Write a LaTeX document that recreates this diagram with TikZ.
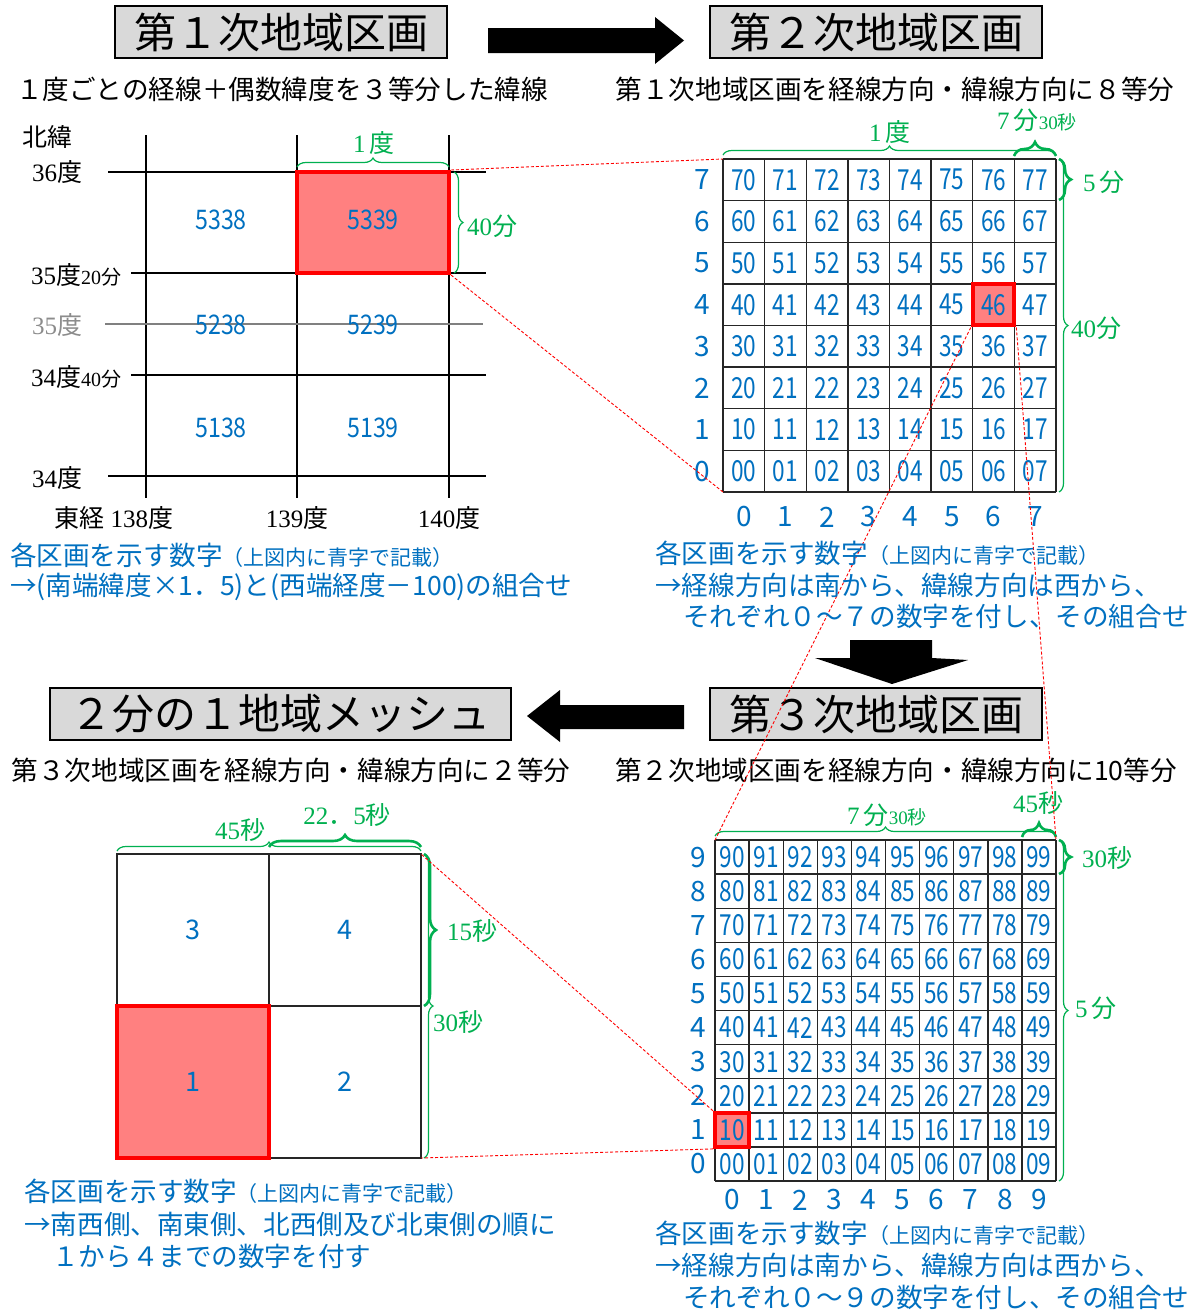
\documentclass[tikz,border=0pt]{standalone}
\usepackage{fontspec}
\setmainfont{Noto Sans CJK JP}
\newfontfamily\lser{Liberation Serif}
\usetikzlibrary{decorations.pathreplacing}
\definecolor{bl}{HTML}{0070C0}
\definecolor{grn}{HTML}{00B050}
\definecolor{hlfill}{HTML}{FF8080}
\definecolor{boxg}{HTML}{D9D9D9}
\newcommand{\nar}[1]{\scalebox{0.86}[1]{#1}}
\newcommand{\narr}[1]{\scalebox{0.78}[1]{#1}}
\newcommand{\fs}[1]{\fontsize{#1}{#1}\selectfont}
\begin{document}
\begin{tikzpicture}[x=1pt,y=-1pt,
  titlebox/.style={draw=black, line width=1.5pt, fill=boxg, minimum height=52pt, inner sep=0pt, font=\fs{42}},
  subtxt/.style={font=\fs{26.6}, inner sep=0pt},
  captxt/.style={font=\fs{26.6}, text=bl, inner sep=0pt, anchor=west},
  lab/.style={font=\fs{25}, inner sep=0pt},
  glab/.style={font=\fs{25}, inner sep=0pt, text=grn},
  num1/.style={font=\fs{27}, text=bl, inner sep=0pt},
  num2/.style={font=\fs{29}, text=bl, inner sep=0pt},
  axl/.style={font=\fs{28}, text=bl, inner sep=0pt},
  g1line/.style={draw=black, line width=2pt},
  gline/.style={draw=black!85, line width=1.4pt},
  hl/.style={fill=hlfill, draw=red, line width=4pt, inner sep=0pt},
  gframe/.style={inner sep=0pt, outer sep=0pt, draw=none},
  rdash/.style={draw=red, line width=0.9pt, dash pattern=on 3pt off 2pt},
  brthin/.style={draw=grn, line width=1.2pt, decorate, decoration={brace, amplitude=#1}},
  brthick/.style={draw=grn, line width=2.6pt, decorate, decoration={brace, amplitude=#1}},
  cell4/.style={draw=black!85, line width=1.4pt, minimum width=152pt, minimum height=152pt, inner sep=0pt, font=\fs{27}, text=bl}
]
\useasboundingbox (0,0) rectangle (1195,1310);
\fill[white] (0,0) rectangle (1195,1310);

% ---------- titles ----------
\node[titlebox, minimum width=332pt] (t1) at (281,32) {第１次地域区画};
\node[titlebox, minimum width=332pt] (t2) at (876,32) {第２次地域区画};
\node[titlebox, minimum width=332pt] (t3) at (876,714) {第３次地域区画};
\node[titlebox, minimum width=461pt] (t4) at (280.5,714) {２分の１地域メッシュ};

% ---------- big arrows ----------
\fill[black] (488,28) -- (655,28) -- (655,17) -- (684,40.5) -- (655,64) -- (655,53) -- (488,53) -- cycle;
\fill[black] (850,640) -- (932,640) -- (932,658) -- (968,660) -- (892,684) -- (815,658) -- (850,658) -- cycle;
\fill[black] (684,705) -- (560,705) -- (560,690) -- (527,716) -- (560,742) -- (560,729) -- (684,729) -- cycle;

% ---------- subtitles ----------
\node[subtxt] (s1) at (282,89) {１度ごとの経線＋偶数緯度を３等分した緯線};
\node[subtxt] (s2) at (895,89) {第１次地域区画を経線方向・緯線方向に８等分};
\node[subtxt] (s3) at (291,770) {第３次地域区画を経線方向・緯線方向に２等分};
\node[subtxt] (s4) at (896,770) {第２次地域区画を経線方向・緯線方向に10等分};

% ---------- grid 1 ----------
\foreach \x in {146,297,449} \draw[g1line] (\x,135) -- (\x,498);
\draw[g1line] (108,172) -- (486,172);
\draw[g1line] (131,273) -- (486,273);
\draw[draw=black!50, line width=1.6pt] (105,324) -- (483,324);
\draw[g1line] (131,375) -- (486,375);
\draw[g1line] (108,476) -- (486,476);
\node[hl, minimum width=152pt, minimum height=101pt] (h1) at (373,222.5) {};
\node[num1] (n5338) at (221,220) {\nar{5338}};
\node[num1] (n5339) at (373,220) {\nar{5339}};
\node[num1] (n5238) at (221,325) {\nar{5238}};
\node[num1] (n5239) at (373,325) {\nar{5239}};
\node[num1] (n5138) at (221,428) {\nar{5138}};
\node[num1] (n5139) at (373,428) {\nar{5139}};
\node[lab] (lnl) at (48,137) {北緯};
\node[lab] (l36) at (57,172) {{\lser 36}度};
\node[lab, anchor=west] (l3520) at (31,275) {{\lser 35}度{\fs{20}\lser 20}{\fs{20}分}};
\node[lab, text=black!45] (l35) at (57,325) {{\lser 35}度};
\node[lab, anchor=west] (l3440) at (31,377) {{\lser 34}度{\fs{20}\lser 40}{\fs{20}分}};
\node[lab] (l34) at (57,478) {{\lser 34}度};
\node[lab] (l138) at (114,518) {東経 {\lser 138}度};
\node[lab] (l139) at (297,518) {{\lser 139}度};
\node[lab] (l140) at (449,518) {{\lser 140}度};
\draw[brthin=9pt] (297,167) -- (449,167);
\node[glab] (b1a) at (374,143) {{\lser 1}\,度};
\draw[brthin=9pt] (454,172) -- (454,273);
\node[glab, anchor=west] (b1b) at (467,226) {{\lser 40}分};

% ---------- grid 2 (8x8) ----------
\foreach \i in {0,...,8} {
  \draw[gline] ({723+\i*41.625},159) -- ({723+\i*41.625},492);
  \draw[gline] (723,{159+\i*41.625}) -- (1056,{159+\i*41.625});
}
\node[gframe, minimum width=333pt, minimum height=333pt] (g2) at (889.5,325.5) {};
\node[hl, minimum width=41.6pt, minimum height=41.6pt] (h2) at ({723+6.5*41.625},{159+3.5*41.625}) {};
\foreach \r in {0,...,7} {
  \node[axl] (r2-\r) at (702,{159+(7-\r+0.5)*41.625}) {\r};
  \node[axl] (c2-\r) at ({723+(\r+0.5)*41.625},517) {\r};
  \foreach \c in {0,...,7} {
    \node[num2] (n2-\r\c) at ({723+(\c+0.5)*41.625},{159+(7-\r+0.5)*41.625}) {\narr{\r\c}};
  }
}
\draw[brthin=9pt] (723,155) -- (1056,155);
\node[glab] (b2a) at (890,132) {{\lser 1}\,度};
\draw[brthick=14pt] (1014,156) -- (1056,156);
\node[glab] (b2b) at (1037,120) {{\lser 7}\,分{\fs{19}\lser 30}{\fs{19}秒}};
\draw[brthick=12pt] (1059,159) -- (1059,200);
\node[glab, anchor=west] (b2c) at (1083,182) {{\lser 5}\,分};
\draw[brthin=9pt] (1059,159) -- (1059,492);
\node[glab, anchor=west] (b2d) at (1071,328) {{\lser 40}分};

% ---------- grid 3 (10x10) ----------
\foreach \i in {0,...,10} {
  \draw[gline] ({715+\i*34.1},840) -- ({715+\i*34.1},1181);
  \draw[gline] (715,{840+\i*34.1}) -- (1056,{840+\i*34.1});
}
\node[gframe, minimum width=341pt, minimum height=341pt] (g3) at (885.5,1010.5) {};
\node[hl, minimum width=34.1pt, minimum height=34.1pt] (h3) at ({715+0.5*34.1},{840+8.5*34.1}) {};
\foreach \r in {0,...,9} {
  \node[axl] (r3-\r) at (698,{840+(9-\r+0.5)*34.1}) {\r};
  \node[axl] (c3-\r) at ({715+(\r+0.5)*34.1},1200) {\r};
  \foreach \c in {0,...,9} {
    \node[num2] (n3-\r\c) at ({715+(\c+0.5)*34.1},{840+(9-\r+0.5)*34.1}) {\narr{\r\c}};
  }
}
\draw[brthin=9pt] (715,836) -- (1056,836);
\node[glab] (b3a) at (887,815) {{\lser 7}\,分{\fs{19}\lser 30}{\fs{19}秒}};
\draw[brthick=14pt] (1022,837) -- (1056,837);
\node[glab] (b3b) at (1038,803) {{\lser 45}秒};
\draw[brthick=12pt] (1059,840) -- (1059,874);
\node[glab, anchor=west] (b3c) at (1082,858) {{\lser 30}秒};
\draw[brthin=9pt] (1059,840) -- (1059,1181);
\node[glab, anchor=west] (b3d) at (1075,1008) {{\lser 5}\,分};

% ---------- grid 4 (2x2) ----------
\node[cell4] (q3) at (193,930) {3};
\node[cell4] (q4) at (345,930) {4};
\node[cell4] (q2) at (345,1082) {2};
\node[cell4, fill=hlfill, draw=red, line width=4pt] (q1) at (193,1082) {1};
\node[gframe, minimum width=304pt, minimum height=304pt] (g4) at (269,1006) {};
\draw[brthin=9pt] (117,851) -- (421,851);
\node[glab] (b4a) at (240,830) {{\lser 45}秒};
\draw[brthick=12pt] (269,847) -- (421,847);
\node[glab] (b4b) at (347,815) {{\lser 22}．{\lser 5}秒};
\draw[brthick=12pt] (424,854) -- (424,1006);
\node[glab, anchor=west] (b4c) at (447,931) {{\lser 15}秒};
\draw[brthin=9pt] (424,854) -- (424,1158);
\node[glab, anchor=west] (b4d) at (433,1022) {{\lser 30}秒};

% ---------- red dashed connectors ----------
\draw[rdash] (h1.north east) -- (g2.north west);
\draw[rdash] (h1.south east) -- (g2.south west);
\draw[rdash] (h2.south west) -- (g3.north west);
\draw[rdash] (h2.south east) -- (g3.north east);
\draw[rdash] (h3.north west) -- (g4.north east);
\draw[rdash] (h3.south west) -- (g4.south east);

% ---------- captions ----------
\node[captxt] (k1a) at (10,555) {各区画を示す数字{\fs{21}（上図内に青字で記載）}};
\node[captxt] (k1b) at (10,587) {→(南端緯度×1．5)と(西端経度－100)の組合せ};
\node[captxt] (k2a) at (655,553) {各区画を示す数字{\fs{21}（上図内に青字で記載）}};
\node[captxt] (k2b) at (655,585) {→経線方向は南から、緯線方向は西から、};
\node[captxt] (k2c) at (683,616) {それぞれ０～７の数字を付し、その組合せ};
\node[captxt] (k4a) at (24,1191) {各区画を示す数字{\fs{21}（上図内に青字で記載）}};
\node[captxt] (k4b) at (24,1224) {→南西側、南東側、北西側及び北東側の順に};
\node[captxt] (k4c) at (52,1256) {１から４までの数字を付す};
\node[captxt] (k3a) at (655,1233) {各区画を示す数字{\fs{21}（上図内に青字で記載）}};
\node[captxt] (k3b) at (655,1265) {→経線方向は南から、緯線方向は西から、};
\node[captxt] (k3c) at (683,1297) {それぞれ０～９の数字を付し、その組合せ};
\end{tikzpicture}
\end{document}
